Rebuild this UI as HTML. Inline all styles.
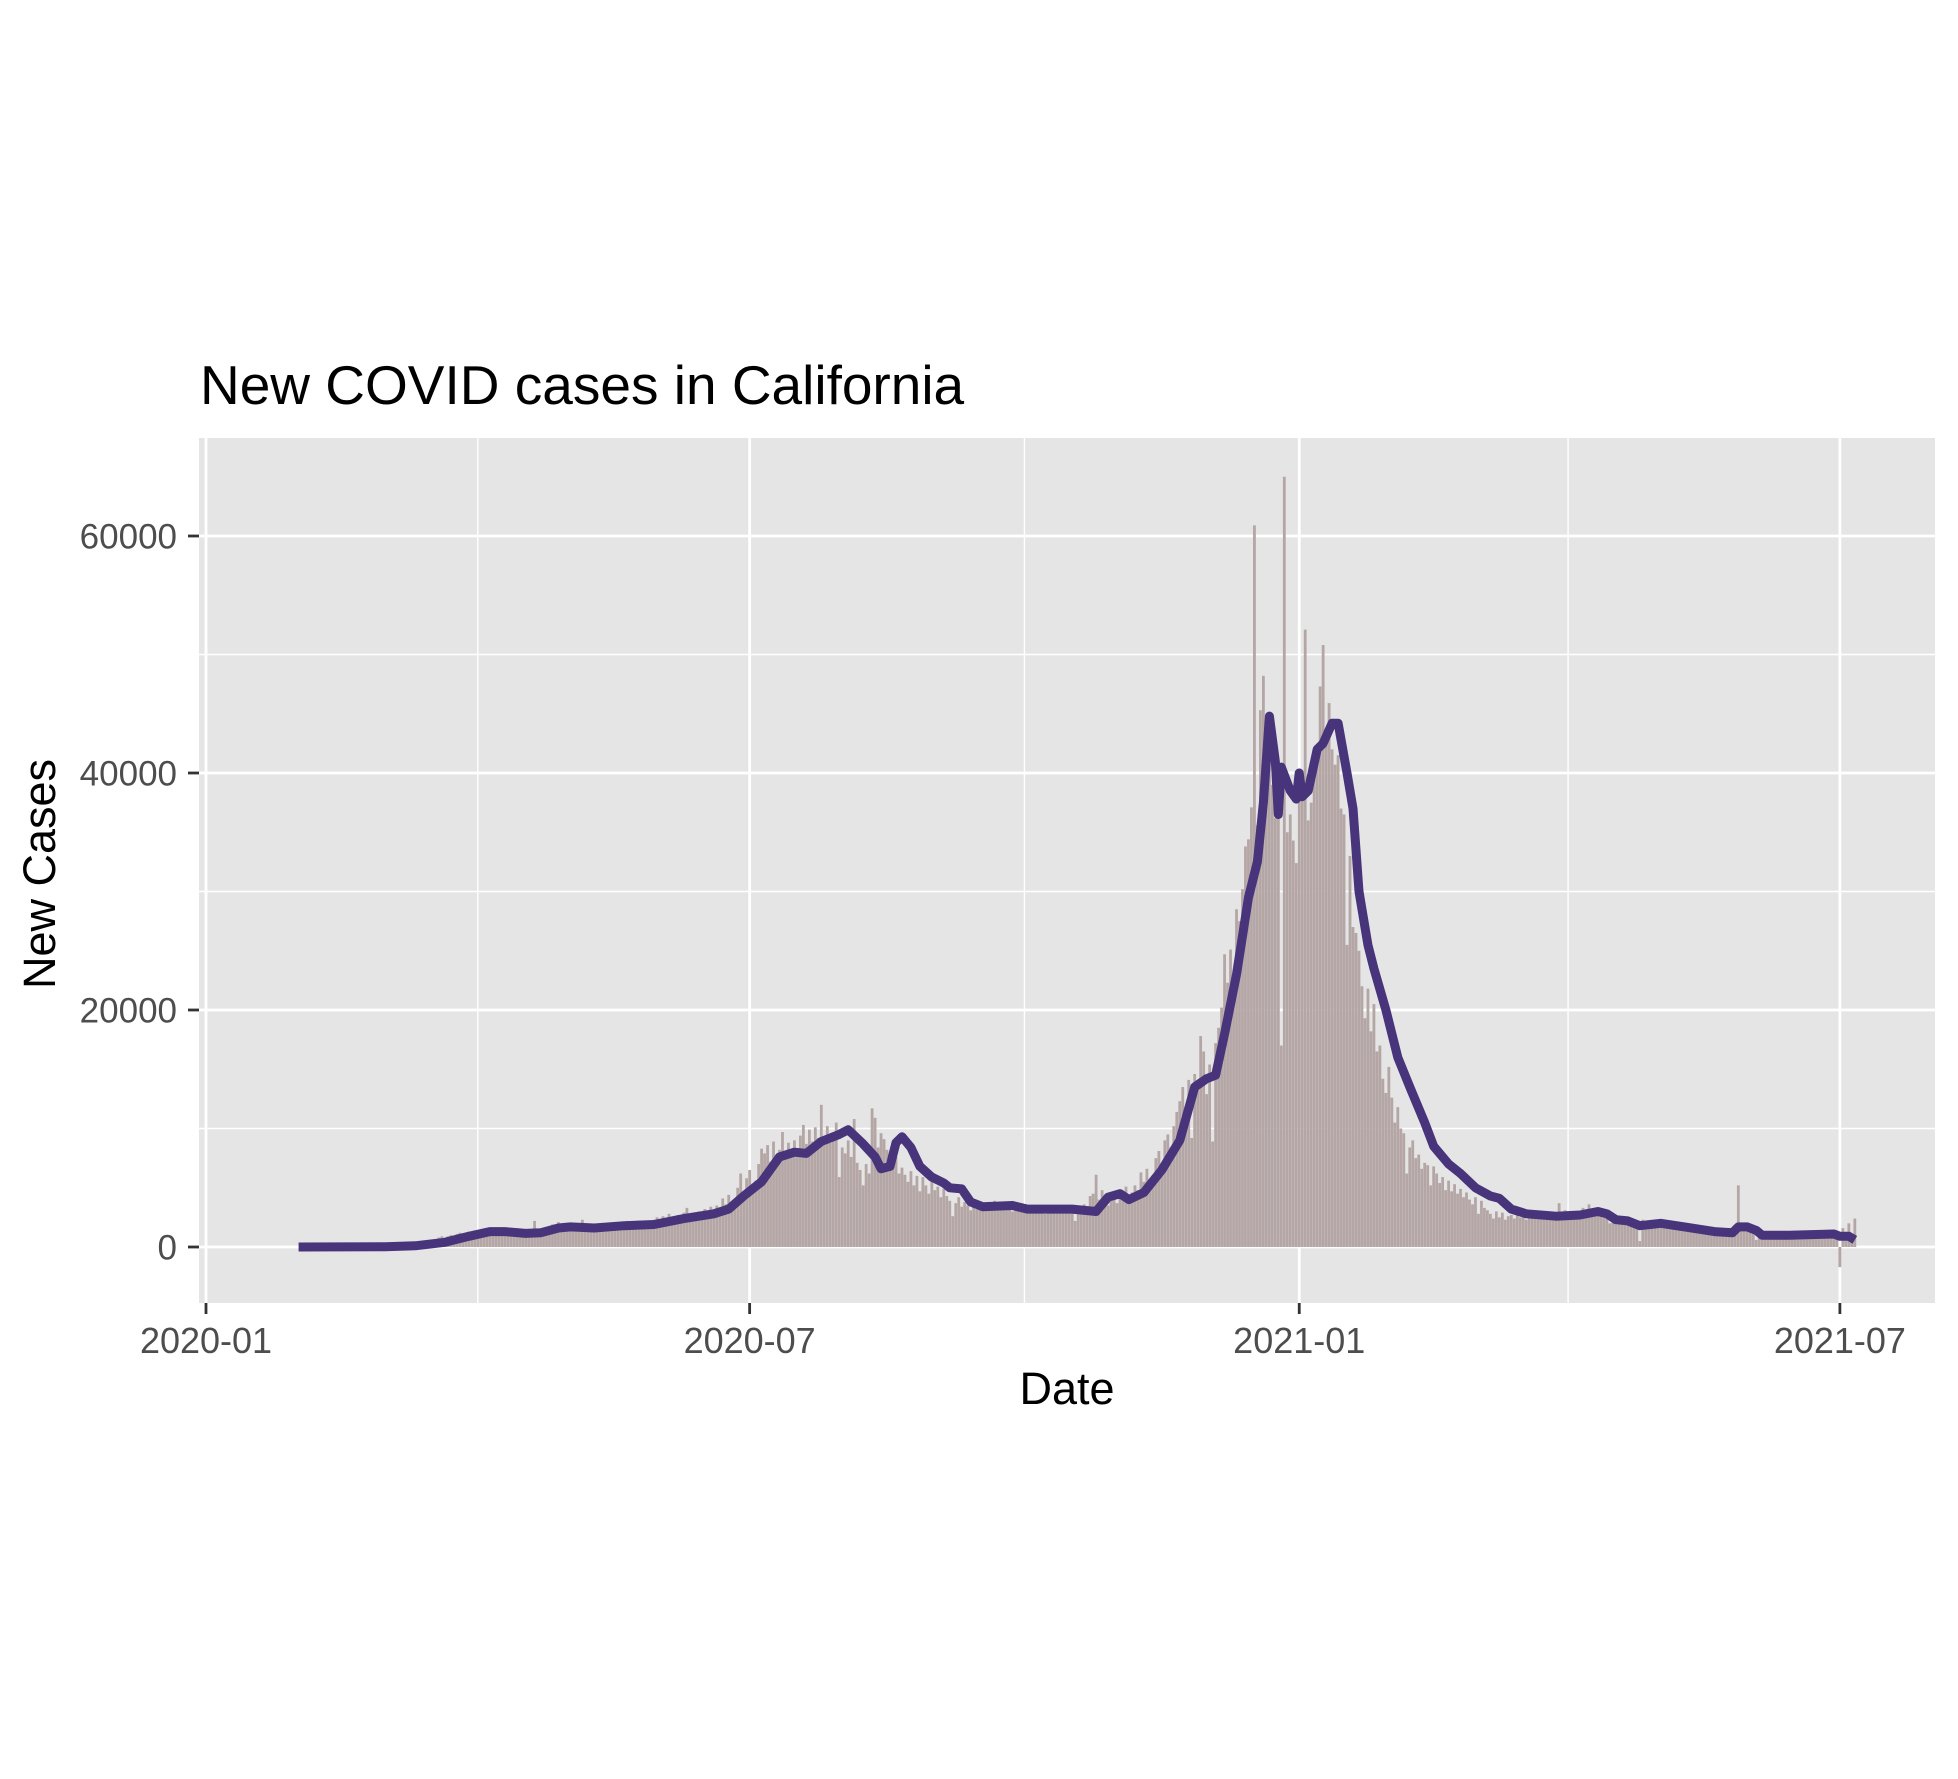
<!DOCTYPE html>
<html><head><meta charset="utf-8"><style>
html,body{margin:0;padding:0;background:#fff;}
svg{display:block;font-family:"Liberation Sans",Arial,sans-serif;}
</style></head><body>
<svg id="chart" width="1958" height="1779" viewBox="0 0 1958 1779">
<rect x="0" y="0" width="1958" height="1779" fill="#fff"/>
<text x="200" y="404" font-size="55" fill="#000">New COVID cases in California</text>
<rect x="199" y="438" width="1736" height="865" fill="#E5E5E5"/>
<g id="grid"></g>
<g id="bars"></g>
<g id="line"></g>
<g id="axes"></g>
<text x="1067" y="1404" font-size="45" text-anchor="middle" fill="#000">Date</text>
<text transform="translate(55,874) rotate(-90)" font-size="45" text-anchor="middle" fill="#000">New Cases</text>
</svg>
<script>
// categories: day offset from 2020-01-01 of first bar
const startDay = 31;
// daily new cases (thousands), from 2020-02-01
const cases = [
0,0,0,0,0,0,0, 0,0,0,0,0,0,0, 0,0,0,0,0,0,0, 0,0,0,0,0,0,0,
0,0,0,0,0,0.1,0.1, 0.1,0.1,0.2,0.2,0.2,0.3,0.3,
.3,.4,.5,.5,.6,.8,.9, .7,.9,1.0,.8,1.1,1.2,1.0, 1.1,1.3,1.2,1.4,1.0,1.3,1.2,
1.2,1.0,1.4,1.3,1.2,1.3,1.1, 1.0,1.1,1.2,1.1,1.0,1.2,1.3, 1.2,1.5,2.2,1.4,1.3,1.1,1.3,
1.6,1.9,1.7,2.1,1.5,1.6,1.8, 1.5,1.4,1.6,1.7,2.3,1.5,1.4, 1.6,1.8,1.5,1.9,1.7,2.0,1.6,
1.8,2.0,1.7,2.1,1.9,2.2,1.6, 1.8,2.0,1.9,2.1,1.7,2.2,1.9, 2.3,2.5,2.1,2.6,2.2,2.8,2.3,
2.5,2.7,2.4,2.9,3.3,2.4,2.6, 2.8,3.0,2.6,3.2,2.9,3.4,2.7, 3.5,3.2,4.1,3.6,4.4,3.8,3.3,
5.0,6.2,4.5,5.8,6.5,5.2,5.6, 7.0,8.3,7.9,8.6,7.2,8.9,7.5, 8.2,9.7,7.6,8.8,7.8,9.0,8.1,
9.4,10.3,8.7,9.9,8.9,10.1,9.2, 12.0,9.1,10.2,8.8,9.6,10.5,5.9, 8.4,7.9,9.0,7.6,10.8,7.1,6.5,
5.2,7.0,6.2,11.7,10.9,8.4,9.6, 9.1,8.2,7.4,6.8,7.6,6.2,6.7, 6.1,5.5,6.4,5.2,6.0,4.7,5.9,
5.2,4.5,5.6,4.8,5.1,4.2,4.9, 4.3,3.9,2.6,3.7,4.2,3.4,3.8, 3.5,3.1,3.6,3.2,3.8,3.4,3.3,
3.6,3.3,3.9,3.4,3.7,3.2,3.5, 3.3,3.0,3.6,3.2,3.4,2.9,3.4, 3.2,3.0,3.5,3.1,3.3,2.8,3.4,
3.3,3.1,3.5,3.0,3.2,2.9,3.3, 3.0,2.2,3.4,3.1,3.6,2.9,4.3, 4.5,6.1,4.0,4.8,4.3,3.5,4.4,
4.0,3.7,4.6,4.2,5.1,4.3,4.6, 5.2,4.8,6.3,5.5,6.6,5.4,6.0, 7.5,8.1,7.0,9.0,9.5,8.4,10.2,
11.4,12.3,13.5,10.2,14.1,9.2,14.6, 13.5,17.8,16.5,12.9,15.4,8.9,17.2, 18.5,20.2,24.7,22.3,25.1,21.0,28.5,
27.5,30.2,33.8,34.4,37.1,60.9,35.6, 45.3,48.2,44.0,41.5,39.0,36.2,40.5, 17.0,65.0,35.0,36.5,34.3,32.4,38.0,
40.2,52.1,36.0,37.5,39.8,41.0,47.3, 50.8,43.0,45.9,42.0,40.7,41.5,37.0, 36.5,25.5,33.0,27.0,26.5,25.0,22.0,
19.3,21.8,18.2,20.5,16.5,17.0,14.2, 13.0,15.2,12.6,10.5,11.8,10.0,9.6, 6.2,8.4,9.0,7.5,7.8,6.6,7.1,
6.9,5.2,6.8,6.2,5.4,5.9,4.8, 5.6,4.7,5.3,4.5,4.9,4.2,4.6, 4.0,3.6,4.2,2.8,3.9,3.3,3.1,
2.8,2.4,3.0,2.5,2.9,2.3,2.6, 2.7,2.4,2.9,2.5,2.8,2.3,2.6, 2.8,2.5,3.0,2.4,2.9,2.6,2.7,
2.9,2.6,3.7,2.8,3.1,2.5,2.9, 2.7,2.4,2.9,3.3,2.6,3.6,2.8, 3.1,2.7,3.2,2.5,2.4,2.0,2.2,
2.3,1.9,2.4,2.0,2.5,1.8,2.1, 2.0,0.5,2.3,1.9,2.2,1.6,2.0, 1.9,1.7,2.1,1.8,2.0,1.6,1.9,
1.7,1.4,1.8,1.5,1.7,1.3,1.6, 1.4,1.2,1.5,1.3,1.4,1.1,1.3, 1.2,1.0,1.3,1.1,1.2,1.0,5.2,
1.4,1.6,1.7,1.5,1.3,0.6,0.8, 1.0,0.9,1.1,1.0,0.8,1.0,0.9, 1.0,0.9,1.0,0.8,1.0,0.9,1.0,
0.9,1.0,0.8,1.0,0.9,1.1,1.0, 1.0,1.1,0.9,1.2,1.1,-1.7,1.6, 0.9,2.0,0.6,2.4
];
// smoothed line: day offsets and values (thousands)
const lineDays = [31,60,70,80,88,95,100,107,112,118,122,130,140,150,160,170,175,180,186,192,197,201,206,212,215,220,224,226,229,231,233,236,239,243,247,249,253,256,260,270,275,290,298,302,306,309,314,320,326,331,335,338,341,345,349,352,354,356,358,359,360,363,365,366,367,369,372,374,377,379,382,384,386,389,391,395,399,403,408,411,416,420,425,430,433,437,442,452,460,466,469,472,476,480,487,495,505,511,513,516,519,521,530,545,547,550,552];
const lineVals = [0,0.02,0.1,0.4,0.9,1.3,1.3,1.15,1.2,1.6,1.7,1.6,1.8,1.9,2.4,2.8,3.2,4.3,5.5,7.6,8.0,7.9,8.9,9.5,9.9,8.7,7.6,6.6,6.8,8.8,9.3,8.4,6.8,5.9,5.4,5.0,4.9,3.8,3.4,3.5,3.2,3.2,3.0,4.2,4.5,4.0,4.6,6.5,9.0,13.5,14.2,14.5,18,23,29.5,32.5,37.5,44.8,41,36.5,40.5,38.5,37.8,40,38,38.5,42,42.5,44.2,44.2,40,37,30,25.5,23.5,20.0,16,13.5,10.5,8.5,7.0,6.2,5.0,4.3,4.1,3.2,2.8,2.6,2.7,3.0,2.8,2.3,2.2,1.8,2.0,1.7,1.3,1.2,1.7,1.7,1.4,1.0,1.0,1.1,0.9,0.9,0.6];
const yTicks = [0,20000,40000,60000];
const yTickLabels = ["0","20000","40000","60000"];
const yMinor = [10000,30000,50000];
const xTickDays = [0,182,366,547];
const xTickLabels = ["2020-01","2020-07","2021-01","2021-07"];
const xMinorDays = [91,274,456];

const NS = "http://www.w3.org/2000/svg";
const PX0=199, PX1=1935, PY0=438, PY1=1303;
function xs(d){ return 206 + d*2.987; }
function ys(v){ return 1247 - v*711/60000; }
function mk(tag, attrs, parent){ const e=document.createElementNS(NS,tag); for(const k in attrs) e.setAttribute(k,attrs[k]); parent.appendChild(e); return e; }

const grid=document.getElementById('grid');
yMinor.forEach(v=>{ const l=mk('line',{x1:PX0,x2:PX1,y1:ys(v),y2:ys(v),stroke:'#fff','stroke-width':1.4},grid);

 });
xMinorDays.forEach(d=>{ const l=mk('line',{x1:xs(d),x2:xs(d),y1:PY0,y2:PY1,stroke:'#fff','stroke-width':1.4},grid);

 });
yTicks.forEach(v=>{ const l=mk('line',{x1:PX0,x2:PX1,y1:ys(v),y2:ys(v),stroke:'#fff','stroke-width':2.8},grid);

 });
xTickDays.forEach(d=>{ const l=mk('line',{x1:xs(d),x2:xs(d),y1:PY0,y2:PY1,stroke:'#fff','stroke-width':2.8},grid);

 });

const bars=document.getElementById('bars');
cases.forEach((c,i)=>{ const d=startDay+i; const v=c*1000; if(v===0) return;
 const y0=ys(0), y1=ys(v);
 const r=mk('rect',{x:xs(d)-1.4,width:2.8,y:Math.min(y0,y1),height:Math.abs(y1-y0),fill:'#B5A6A6'},bars);
 
  });

const lineG=document.getElementById('line');
const pts=lineDays.map((d,i)=>xs(d).toFixed(1)+','+ys(lineVals[i]*1000).toFixed(1)).join(' ');
const pl=mk('polyline',{points:pts,fill:'none',stroke:'#48347A','stroke-width':9,'stroke-linejoin':'round','stroke-linecap':'butt'},lineG);



const axes=document.getElementById('axes');
yTicks.forEach((v,i)=>{ const t=mk('line',{x1:188,x2:199,y1:ys(v),y2:ys(v),stroke:'#333','stroke-width':2.8},axes);
 
 
 const tx=mk('text',{x:177,y:ys(v)+12.5,'font-size':35,'text-anchor':'end',fill:'#4D4D4D'},axes);
 tx.textContent=yTickLabels[i];
 
  });
xTickDays.forEach((d,i)=>{ const t=mk('line',{x1:xs(d),x2:xs(d),y1:PY1,y2:PY1+11,stroke:'#333','stroke-width':2.8},axes);
 
 
 const tx=mk('text',{x:xs(d),y:1353,'font-size':36,'text-anchor':'middle',fill:'#4D4D4D'},axes);
 tx.textContent=xTickLabels[i];
 
  });
</script>
</body></html>
